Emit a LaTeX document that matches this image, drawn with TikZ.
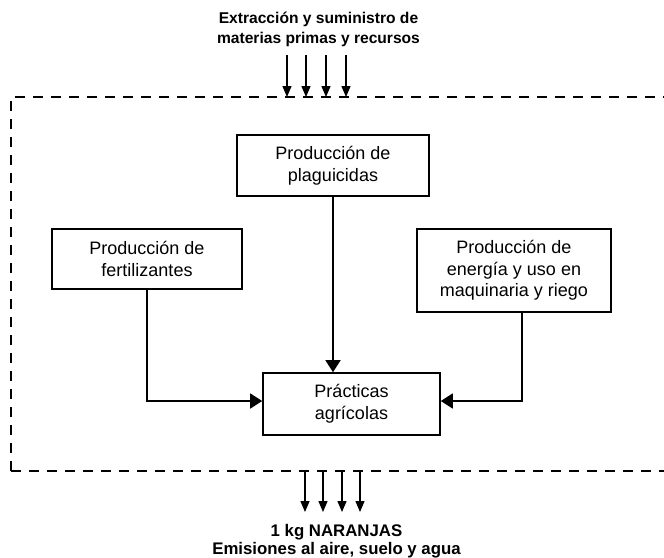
\documentclass[tikz,border=0pt]{standalone}
\usepackage{fontspec}
\setmainfont{Liberation Sans}
\usetikzlibrary{arrows, arrows.meta}

\begin{document}
\begin{tikzpicture}[x=1pt,y=-1pt,line width=1.5pt,
					>={Triangle[length=12pt,width=15pt]}]

\tikzstyle{proceso} = [rectangle, draw, line width=1.6pt, align=center, inner sep=0pt, font=\fontsize{18}{21.7}\selectfont]
\tikzstyle{rotulo} = [align=center, inner sep=0pt, font=\bfseries\fontsize{15.6}{19.5}\selectfont]
\tikzstyle{limite} = [line width=2.2pt, dash pattern=on 10pt off 8pt]
\tikzstyle{flujo} = [line width=1.3pt, -{Triangle[length=11pt,width=9pt]}]

\useasboundingbox (0,0) rectangle (664,557);

\node[rotulo] (materias) at (318.5,29.5) {Extracción y suministro de\\materias primas y recursos};

\node[proceso, minimum width=192, minimum height=61] (plaguicidas) at (333,165.5) {Producción de\\plaguicidas};
\node[proceso, minimum width=190, minimum height=60] (fertilizantes) at (147,259) {Producción de\\fertilizantes};
\node[proceso, minimum width=194, minimum height=83] (energia) at (514,270.5) {Producción de\\energía y uso en\\maquinaria y riego};
\node[proceso, minimum width=177, minimum height=62] (practicas) at (351.5,404) {Prácticas\\agrícolas};

\node[rotulo, font=\bfseries\fontsize{16.8}{18.5}\selectfont] (salida) at (336.5,541) {1 kg NARANJAS\\Emisiones al aire, suelo y agua};

% limite del sistema
\coordinate (limsup) at (11,97);
\coordinate (liminf) at (11,471);
\draw[limite] (liminf) -- (limsup) -- (664,97);
\draw[limite] (liminf) -- (664,471);

% entradas y salidas
\foreach \x [count=\i] in {287,306,326,346} {
	\coordinate (ent\i) at (\x,55);
	\draw[flujo] (ent\i) -- (ent\i |- limsup);
}
\foreach \x [count=\i] in {305,323,342,360} {
	\coordinate (sal\i) at (\x,512);
	\draw[flujo] (sal\i |- liminf) -- (sal\i);
}

\draw[->] (plaguicidas.south) -- (plaguicidas.south |- practicas.north);
\draw[->] (fertilizantes.south) |- ([yshift=3pt]practicas.west);
\draw[->] ([xshift=8pt]energia.south) |- ([yshift=3pt]practicas.east);
\end{tikzpicture}
\end{document}
